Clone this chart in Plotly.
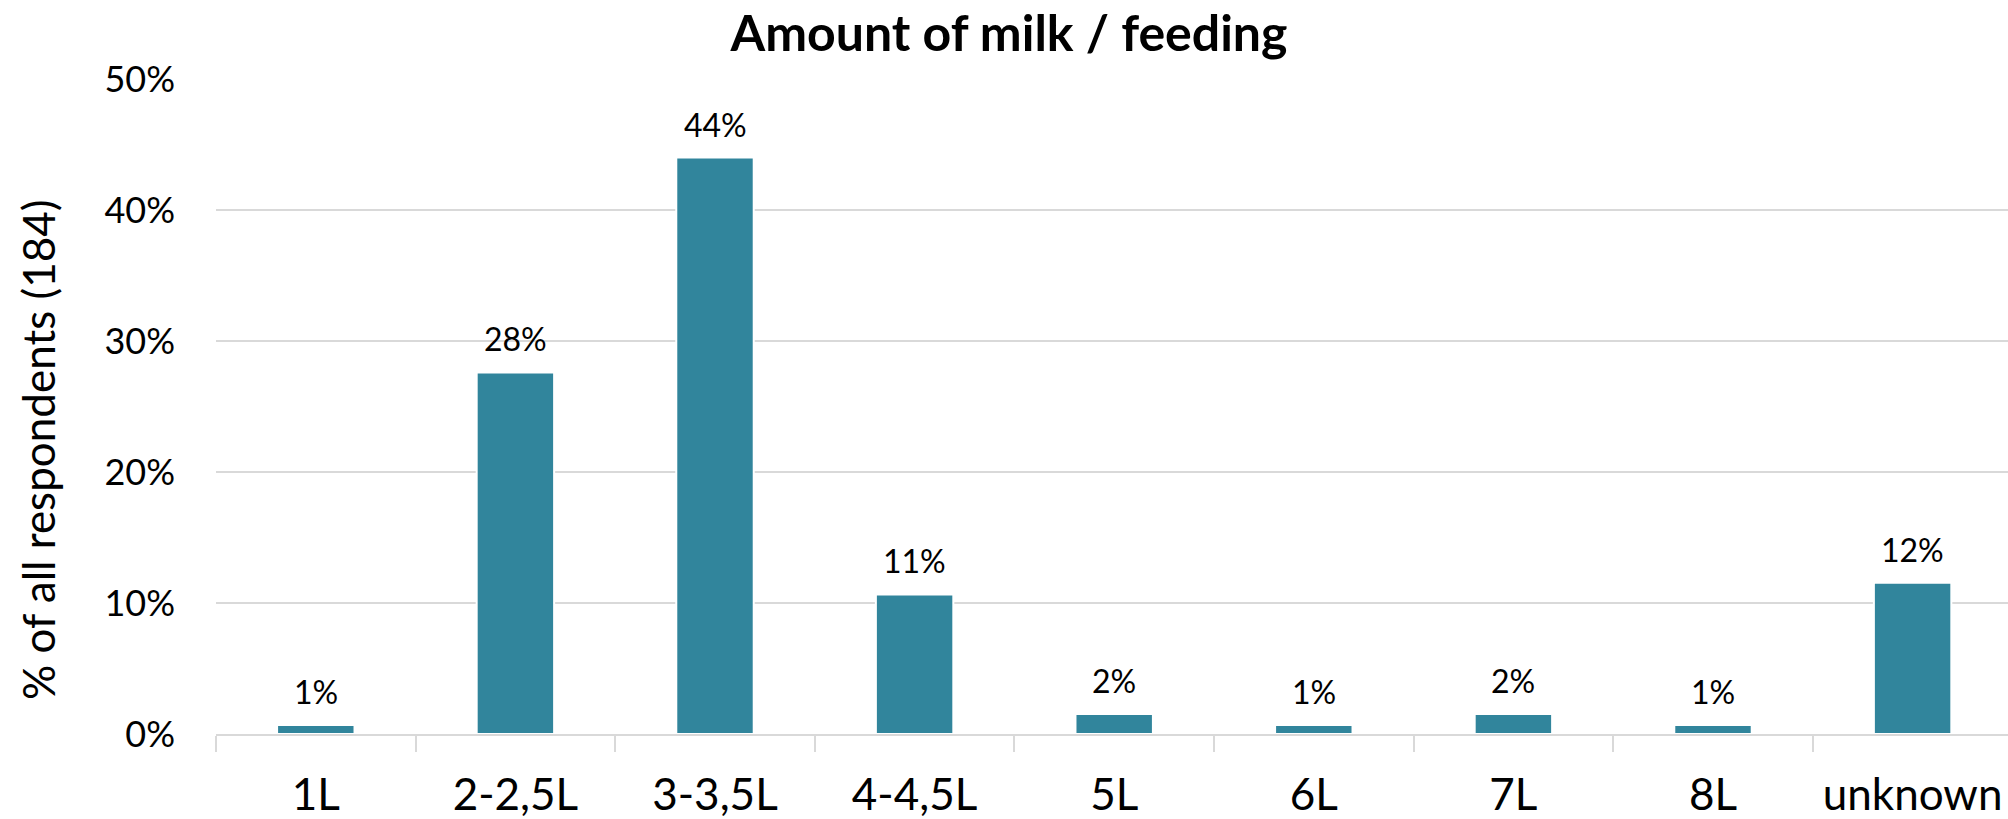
import plotly.graph_objects as go

# Share of respondents by amount of milk given per feeding
categories = ["1L", "2-2,5L", "3-3,5L", "4-4,5L", "5L", "6L", "7L", "8L", "unknown"]
share_pct = [0.68, 27.6, 44.0, 10.65, 1.52, 0.68, 1.52, 0.68, 11.55]
y_ticks = [0, 10, 20, 30, 40, 50]
y_tick_labels = [f"{v}%" for v in y_ticks]

BAR_COLOR = "#31859C"
GRID_COLOR = "#D9D9D9"
FONT = "Lato"

W, H = 2008, 819
plot_left, plot_top, plot_bottom = 216, 79, 734
cat_px = 199.6  # pixel width of one category slot
x_max = -0.5 + (W - plot_left) / cat_px

fig = go.Figure(
    go.Bar(
        x=categories,
        y=share_pct,
        marker=dict(color=BAR_COLOR, line=dict(color="white", width=2)),
        width=0.388,
        hoverinfo="x+y",
    )
)

# value labels above each bar
for cat, val in zip(categories, share_pct):
    fig.add_annotation(
        x=cat, y=val, xref="x", yref="y",
        text=f"{val:.0f}%",
        showarrow=False, yanchor="bottom", yshift=12,
        font=dict(family=FONT, size=32, color="black"),
    )

# y-axis title, positioned in pixels relative to the plot area
title_cx, title_cy = 38, 450
fig.add_annotation(
    xref="paper", yref="paper",
    x=(title_cx - plot_left) / (W - plot_left),
    y=(plot_bottom - title_cy) / (plot_bottom - plot_top),
    xanchor="center", yanchor="middle",
    text="% of all respondents (184)",
    showarrow=False, textangle=-90,
    font=dict(family=FONT, size=44, color="black"),
)

fig.update_layout(
    width=W, height=H,
    margin=dict(l=plot_left, r=0, t=plot_top, b=H - plot_bottom, pad=0, autoexpand=False),
    paper_bgcolor="white", plot_bgcolor="white",
    showlegend=False,
    title=dict(
        text="<b>Amount of milk / feeding</b>",
        x=1009 / W, xref="container", xanchor="center",
        y=1 - 16 / H, yref="container", yanchor="top",
        font=dict(family=FONT, size=50, color="black"),
    ),
    xaxis=dict(
        type="category",
        range=[-0.5, x_max],
        automargin=False,
        showgrid=False,
        showline=True, linecolor=GRID_COLOR, linewidth=2,
        ticks="outside", tickson="boundaries", ticklen=16, tickwidth=2, tickcolor=GRID_COLOR,
        tickfont=dict(family=FONT, size=44, color="black"),
        ticklabelstandoff=21,
    ),
    yaxis=dict(
        range=[0, 50],
        automargin=False,
        tickvals=y_ticks,
        ticktext=y_tick_labels,
        showgrid=True, gridcolor=GRID_COLOR, gridwidth=2,
        zeroline=False, showline=False,
        tickfont=dict(family=FONT, size=36, color="black"),
        ticklabelstandoff=40,
    ),
)

fig.write_html("out.html")
